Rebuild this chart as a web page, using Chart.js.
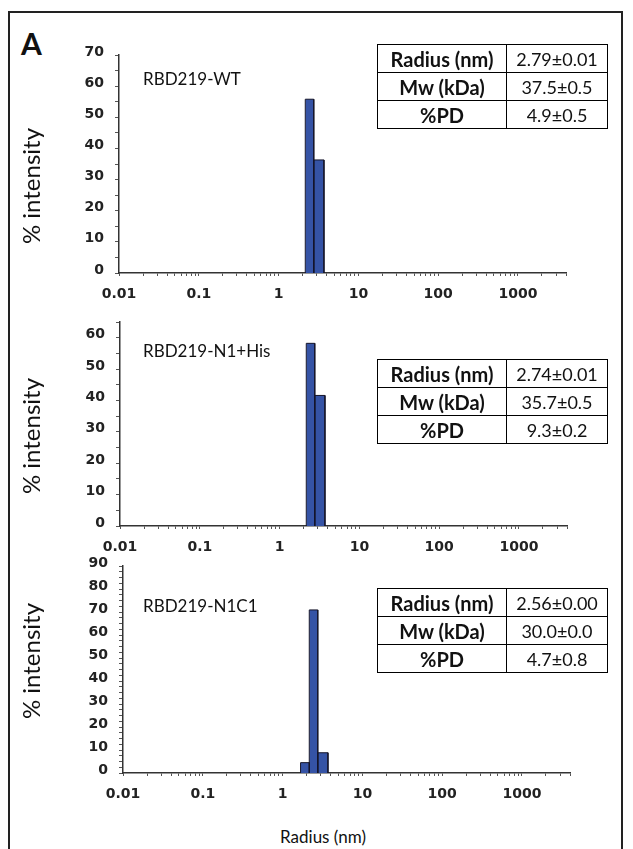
<!DOCTYPE html>
<html><head><meta charset="utf-8">
<script src="https://cdn.jsdelivr.net/npm/chart.js@4.4.1/dist/chart.umd.min.js"></script>
<style>
html,body{margin:0;padding:0;background:#fff;}
body{width:633px;height:849px;position:relative;overflow:hidden;font-family:Lato,sans-serif;color:#111;}
.frame{position:absolute;left:8px;top:11px;width:615px;height:900px;border:2px solid #222;box-sizing:border-box;}
canvas{position:absolute;left:0;}
.panelA{position:absolute;left:21px;top:28px;font:bold 30px Lato;line-height:1;}
.name{position:absolute;left:143px;font:17px Lato;line-height:1;transform:translateY(-50%);white-space:nowrap;}
.ytitle{position:absolute;left:31px;font:24px Lato;line-height:1;transform:translate(-50%,-50%) rotate(-90deg);white-space:nowrap;}
table{position:absolute;border-collapse:collapse;left:377px;width:231px;}
td{border:1.5px solid #000;height:27px;padding:0;text-align:center;font:18px Lato;line-height:1;color:#111;}
td.k{font-weight:bold;font-size:20px;width:128px;}
.xtitle{position:absolute;left:323px;top:836px;transform:translate(-50%,-50%);font:17px Lato;white-space:nowrap;}
</style>
</head><body>
<div class="frame"></div>
<div class="panelA">A</div>
<canvas id="c1" width="633" height="310" style="top:0px"></canvas>
<canvas id="c2" width="633" height="260" style="top:300px"></canvas>
<canvas id="c3" width="633" height="265" style="top:545px"></canvas>
<div id="texts"></div>
<div class="xtitle">Radius (nm)</div>
<script>
// ---- data ----
const xDecades = [0.01, 0.1, 1, 10, 100, 1000];
const xTickLabels = ['0.01', '0.1', '1', '10', '100', '1000'];

const sampleNames = ['RBD219-WT', 'RBD219-N1+His', 'RBD219-N1C1'];

// histogram bins (radius, nm)
const wtBinLo = [2.16, 2.76];
const wtBinHi = [2.76, 3.70];
const wtIntensity = [55.8, 36.3];

const hisBinLo = [2.16, 2.76];
const hisBinHi = [2.76, 3.70];
const hisIntensity = [58.2, 41.6];

const n1c1BinLo = [1.68, 2.16, 2.76];
const n1c1BinHi = [2.16, 2.76, 3.70];
const n1c1Intensity = [4.5, 70.9, 8.8];

// y tick labels
const yLabels1 = ['0', '10', '20', '30', '40', '50', '60', '70'];
const yLabels2 = ['0', '10', '20', '30', '40', '50', '60'];
const yLabels3 = ['0', '10', '20', '30', '40', '50', '60', '70', '80', '90'];

// tables
const tableKeys = ['Radius (nm)', 'Mw (kDa)', '%PD'];
const wtTable = ['2.79±0.01', '37.5±0.5', '4.9±0.5'];
const hisTable = ['2.74±0.01', '35.7±0.5', '9.3±0.2'];
const n1c1Table = ['2.56±0.00', '30.0±0.0', '4.7±0.8'];

// ---- layout / style ----
const BAR = '#3553a5';
const EDGE = '#15152a';
const TICKFONT = {family: 'DejaVu Sans', weight: 'bold', size: 14};

const xTickValues = [];
for (let e = -2; e <= 3; e++) {
  for (let m = 1; m <= 9; m++) {
    const v = parseFloat((m * Math.pow(10, e)).toPrecision(12));
    if (v <= 4000) xTickValues.push(v);
  }
}

function makePanel(id, lo, hi, vals, yLabels, ymax, minorStep, geo) {
  const ticksY = [];
  for (let v = 0; v <= ymax + 1e-9; v += minorStep) ticksY.push(Math.round(v * 100) / 100);
  const datasets = lo.map((l, i) => ({
    data: [{x: l, y: 0}, {x: l, y: vals[i]}, {x: hi[i], y: vals[i]}, {x: hi[i], y: 0}],
    showLine: true, fill: 'origin', backgroundColor: BAR, borderColor: EDGE,
    borderWidth: 1, pointRadius: 0, tension: 0
  }));
  new Chart(document.getElementById(id), {
    type: 'scatter',
    data: {datasets},
    options: {
      responsive: false, animation: false, events: [],
      layout: {padding: {left: 0, top: geo.top, right: 633 - geo.right, bottom: 0}},
      plugins: {legend: {display: false}, tooltip: {enabled: false}},
      scales: {
        x: {
          type: 'logarithmic', min: 0.01, max: 4000,
          afterBuildTicks: s => { s.ticks = xTickValues.map(v => ({value: v})); },
          afterFit: s => { s.height = geo.xh; },
          grid: {drawOnChartArea: false, tickLength: 3, color: '#555', lineWidth: 1},
          border: {color: '#333', width: 1.5},
          ticks: {
            autoSkip: false, maxRotation: 0, minRotation: 0, padding: 10, font: TICKFONT, color: '#222',
            callback: v => { const i = xDecades.indexOf(v); return i >= 0 ? xTickLabels[i] : ''; }
          }
        },
        y: {
          min: 0, max: ymax,
          afterBuildTicks: s => { s.ticks = ticksY.map(v => ({value: v})); },
          afterFit: s => { s.width = geo.left; },
          grid: {drawOnChartArea: false, tickLength: 4, color: '#555', lineWidth: 1},
          border: {color: '#333', width: 1.5},
          ticks: {
            autoSkip: false, padding: 11, font: TICKFONT, color: '#222', labelOffset: -3,
            callback: v => { if (Math.abs(v % 10) > 1e-9) return ''; const i = Math.round(v / 10); return yLabels[i] !== undefined ? yLabels[i] : ''; }
          }
        }
      }
    }
  });
}

makePanel('c1', wtBinLo, wtBinHi, wtIntensity, yLabels1, 70, 5, {left: 119, right: 566, top: 55, xh: 37});
makePanel('c2', hisBinLo, hisBinHi, hisIntensity, yLabels2, 65, 5, {left: 120, right: 567, top: 22, xh: 34});
makePanel('c3', n1c1BinLo, n1c1BinHi, n1c1Intensity, yLabels3, 90, 2.5, {left: 123, right: 570, top: 21, xh: 37});

// ---- text elements ----
const texts = document.getElementById('texts');
const nameY = [78, 350, 605];
const titleY = [186, 436, 661];
const tableTop = [44, 359, 588];
const tables = [wtTable, hisTable, n1c1Table];
for (let p = 0; p < 3; p++) {
  const n = document.createElement('div');
  n.className = 'name'; n.style.top = nameY[p] + 'px'; n.textContent = sampleNames[p];
  texts.appendChild(n);
  const t = document.createElement('div');
  t.className = 'ytitle'; t.style.top = titleY[p] + 'px'; t.textContent = '% intensity';
  texts.appendChild(t);
  const tb = document.createElement('table');
  tb.style.top = tableTop[p] + 'px';
  tableKeys.forEach((k, r) => {
    const tr = document.createElement('tr');
    const a = document.createElement('td'); a.className = 'k'; a.textContent = k;
    const b = document.createElement('td'); b.textContent = tables[p][r];
    tr.appendChild(a); tr.appendChild(b); tb.appendChild(tr);
  });
  texts.appendChild(tb);
}
</script>
</body></html>
